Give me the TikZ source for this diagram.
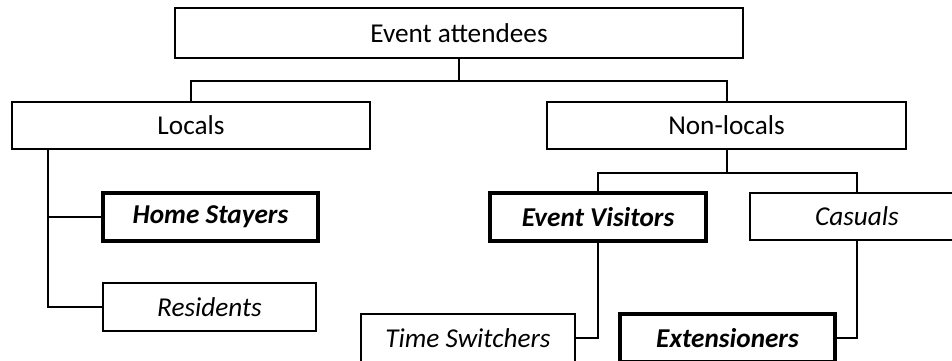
\documentclass[tikz,border=0pt]{standalone}
\usepackage{fontspec}
\setmainfont{Carlito}
\usetikzlibrary{calc}
\tikzset{
	catbox/.style={draw, line width=0.04cm, fill=white, inner sep=0pt, minimum width=#1*0.02cm, minimum height=0.95cm, font=\fontsize{15.5}{18}\selectfont},
	keybox/.style={catbox=#1, line width=0.075cm, font=\fontsize{15.5}{18}\selectfont\bfseries\itshape},
	link/.style={line width=0.04cm}
}

\begin{document}
\begin{tikzpicture}[x=0.02cm, y=-0.02cm]
			%%%%% START %%%%%
			
			\useasboundingbox (0, 0) rectangle (952, 361);
			
			\node[catbox=568, minimum height=1cm] (top) at (459, 33) {Event attendees};
			
			\node[catbox=358] (locals) at (191, 125.5) {Locals};
			\node[catbox=359] (nonlocals) at (726.5, 125.5) {Non-locals};
			
			\node[keybox=215] (home) at (210.5, 217) {Home Stayers};
			\node[catbox=213, font=\fontsize{15.5}{18}\selectfont\itshape] (resid) at (209.5, 307) {Residents};
			
			\node[keybox=216] (visit) at (598, 217) {Event Visitors};
			\node[catbox=214, font=\fontsize{15.5}{18}\selectfont\itshape] (casual) at (857, 216.5) {Casuals};
			
			\node[catbox=214, font=\fontsize{15.5}{18}\selectfont\itshape] (switch) at (468, 338) {Time Switchers};
			\node[keybox=215] (extens) at (727.5, 338) {Extensioners};
			
			% first level
			\coordinate (split) at ($(top.south)+(0, 22)$);
			\draw[link] (top.south) -- (split) -| (locals.north);
			\draw[link] (split) -| (nonlocals.north);
			
			% locals
			\coordinate (lstem) at ($(locals.south west)+(37, 0)$);
			\draw[link] (lstem) |- (home.west);
			\draw[link] (lstem) |- (resid.west);
			
			% non-locals
			\coordinate (nsplit) at ($(nonlocals.south)+(0, 23)$);
			\draw[link] (nonlocals.south) -- (nsplit) -| (visit.north);
			\draw[link] (nsplit) -| (casual.north);
			
			\draw[link] (visit.south) |- (switch.east);
			\draw[link] (casual.south) |- (extens.east);
			
			%%%%% END %%%%%
		\end{tikzpicture}
\end{document}
